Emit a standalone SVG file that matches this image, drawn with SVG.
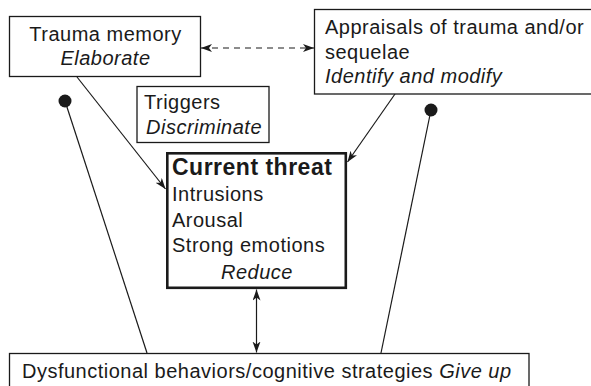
<svg xmlns="http://www.w3.org/2000/svg" width="591" height="386" viewBox="0 0 591 386">
  <style>
    .box { fill: #fff; stroke: #1a1a1a; stroke-width: 1.3; }
    .main { fill: #fff; stroke: #1a1a1a; stroke-width: 2.6; }
    .t { font-family: "Liberation Sans", Arial, sans-serif; font-size: 20px; fill: #1a1a1a; letter-spacing: 0.5px; }
    .i { font-style: italic; }
    .b { font-weight: bold; font-size: 23px; }
    .c { text-anchor: middle; }
    .ln { stroke: #1a1a1a; stroke-width: 1.2; fill: none; }
    .dot { fill: #1a1a1a; }
  </style>
  <defs>
    <marker id="arr" markerUnits="userSpaceOnUse" markerWidth="12" markerHeight="10" refX="11" refY="4" orient="auto-start-reverse">
      <path d="M0,0 L11,4 L0,8 L3,4 Z" fill="#1a1a1a"/>
    </marker>
  </defs>

  <!-- connectors -->
  <g id="connectors">
    <line class="ln" x1="201" y1="48" x2="314" y2="48" stroke-dasharray="6 5" marker-start="url(#arr)" marker-end="url(#arr)"/>
    <line class="ln" x1="77" y1="77" x2="165.5" y2="189" marker-end="url(#arr)"/>
    <line class="ln" x1="395" y1="94" x2="347.5" y2="162" marker-end="url(#arr)"/>
    <line class="ln" x1="256.5" y1="289.5" x2="256.5" y2="352.5" marker-start="url(#arr)" marker-end="url(#arr)"/>
    <line class="ln" x1="65" y1="101" x2="147" y2="353"/>
    <circle class="dot" cx="65" cy="101" r="6.5"/>
    <line class="ln" x1="431" y1="110" x2="381" y2="353"/>
    <circle class="dot" cx="431" cy="110" r="6.5"/>
  </g>

  <g id="trauma-memory">
    <rect class="box" x="9.5" y="16.5" width="191" height="60"/>
    <text class="t c" x="105.5" y="40.5">Trauma memory</text>
    <text class="t c i" x="105.5" y="65">Elaborate</text>
  </g>

  <g id="appraisals">
    <rect class="box" x="314.5" y="9.5" width="290" height="84.5"/>
    <text class="t" x="325" y="34">Appraisals of trauma and/or</text>
    <text class="t" x="325" y="59">sequelae</text>
    <text class="t i" x="325" y="83">Identify and modify</text>
  </g>

  <g id="triggers">
    <rect class="box" x="137" y="86.5" width="132" height="56"/>
    <text class="t" x="144" y="108.5">Triggers</text>
    <text class="t i" x="146" y="133.5">Discriminate</text>
  </g>

  <g id="current-threat">
    <rect class="main" x="167.3" y="153.3" width="178.5" height="134.5"/>
    <text class="t b" x="172" y="174.5">Current threat</text>
    <text class="t" x="172" y="200.5">Intrusions</text>
    <text class="t" x="172" y="226.5">Arousal</text>
    <text class="t" x="172" y="251.5">Strong emotions</text>
    <text class="t c i" x="257" y="279">Reduce</text>
  </g>

  <g id="dysfunctional">
    <rect class="box" x="9.5" y="353.5" width="519.5" height="40"/>
    <text class="t" x="22" y="377.5">Dysfunctional behaviors/cognitive strategies <tspan class="i">Give up</tspan></text>
  </g>
</svg>
